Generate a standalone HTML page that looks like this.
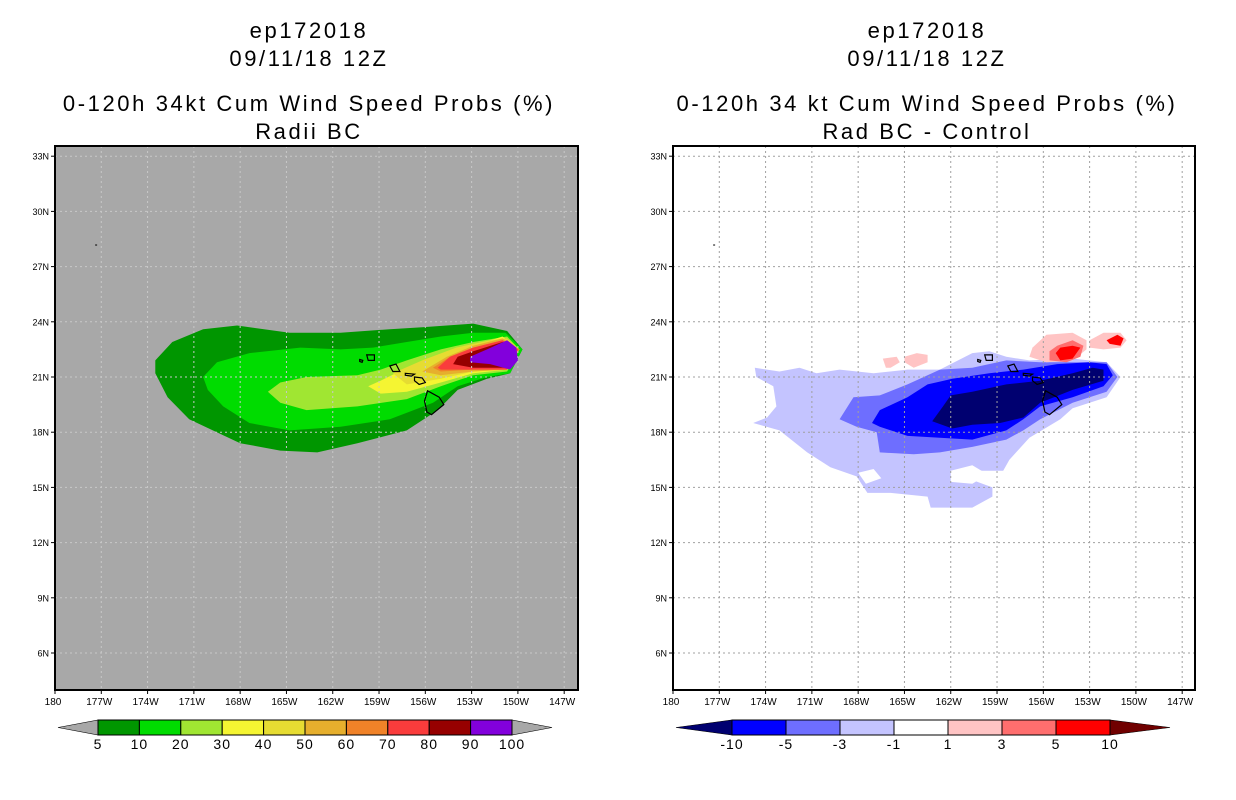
<!DOCTYPE html>
<html><head><meta charset="utf-8"><style>
body{margin:0;background:#fff;width:1236px;height:800px;overflow:hidden}
svg{display:block}
text{font-family:"Liberation Sans","DejaVu Sans",sans-serif;fill:#000}
</style></head><body>
<svg id="fig" width="1236" height="800" xmlns="http://www.w3.org/2000/svg"></svg>
<script>
// ---------- data ----------
const lonTicks = [180,177,174,171,168,165,162,159,156,153,150,147];
const lonTickLabels = ["180","177W","174W","171W","168W","165W","162W","159W","156W","153W","150W","147W"];
const latTicks = [33,30,27,24,21,18,15,12,9,6];
const latTickLabels = ["33N","30N","27N","24N","21N","18N","15N","12N","9N","6N"];
const probLevels = ["5","10","20","30","40","50","60","70","80","90","100"];
const probColors = ["#009600","#00dc00","#a0e632","#f5f532","#e6dc32","#e6af2d","#f08228","#fa3c3c","#960000","#8200dc"];
const diffLevels = ["-10","-5","-3","-1","1","3","5","10"];
const diffColors = ["#000070","#0000ff","#6e6eff","#c4c4ff","#ffffff","#ffc4c4","#ff6e6e","#ff0000","#700000"];
// contour polygons [lonW, lat]
const prob5 = [[173.5,21.9],[172.4,22.9],[170.4,23.6],[168.2,23.8],[164.8,23.4],[161.5,23.4],[158.3,23.6],[156.2,23.7],[152.9,23.9],[150.7,23.5],[149.7,22.5],[150.5,21.2],[152.0,20.9],[153.9,20.3],[155.2,19.2],[157.2,18.1],[160.4,17.4],[163.0,16.9],[165.4,17.0],[168.0,17.4],[171.3,18.7],[172.7,19.9],[173.5,21.2]];
const prob10 = [[170.4,21.0],[169.5,21.8],[167.4,22.3],[164.1,22.6],[161.5,22.5],[159.4,22.6],[157.2,22.9],[155.0,23.2],[152.9,23.4],[150.8,23.4],[149.7,22.5],[150.5,21.2],[152.0,21.0],[153.9,20.5],[155.5,19.6],[158.3,18.7],[161.5,18.3],[164.8,18.1],[167.4,18.5],[169.1,19.4],[170.1,20.3]];
const prob20 = [[166.2,20.2],[165.4,20.7],[163.7,21.0],[160.4,21.1],[158.9,21.4],[157.2,21.9],[155.0,22.5],[152.9,22.9],[150.7,23.2],[149.9,22.5],[150.7,21.3],[152.9,21.1],[155.0,20.5],[157.2,19.8],[160.4,19.4],[163.7,19.2],[165.4,19.6]];
const prob30 = [[159.7,20.5],[158.9,20.8],[157.2,21.5],[155.0,22.1],[152.9,22.7],[151.0,23.2],[149.9,22.5],[150.7,21.4],[152.9,21.2],[155.0,20.7],[157.2,20.2],[158.9,20.1]];
const prob40 = [[158.1,21.2],[156.2,21.9],[154.0,22.6],[151.8,23.0],[150.7,23.1],[149.9,22.5],[150.7,21.4],[152.9,21.3],[155.0,20.9],[157.2,20.6]];
const prob50 = [[156.2,21.3],[154.6,22.1],[152.9,22.7],[151.0,23.1],[149.9,22.5],[150.7,21.4],[152.9,21.3],[155.0,21.1]];
const prob60 = [[155.5,21.5],[154.4,22.1],[152.9,22.6],[151.0,23.0],[149.9,22.5],[150.7,21.4],[152.9,21.4],[155.0,21.3]];
const prob70 = [[155.2,21.5],[154.4,22.1],[152.9,22.6],[151.0,23.0],[150.0,22.5],[150.7,21.4],[152.9,21.4],[155.0,21.4]];
const prob80 = [[154.2,21.7],[153.9,22.1],[152.9,22.4],[151.0,22.9],[150.1,22.5],[150.7,21.5],[152.9,21.5]];
const prob90 = [[153.1,22.1],[152.0,22.5],[150.7,23.0],[150.1,22.6],[150.0,21.9],[150.5,21.4],[151.8,21.7],[153.1,21.8]];
const diffM1 = [[174.7,21.5],[173.1,21.3],[171.8,21.5],[170.7,21.2],[169.2,21.4],[167.0,21.2],[164.8,21.4],[162.7,21.4],[160.6,22.3],[159.5,22.4],[158.4,22.1],[156.9,21.9],[154.1,22.0],[151.9,21.8],[151.0,21.0],[151.9,19.9],[154.1,19.3],[154.9,18.7],[156.9,17.7],[158.2,16.5],[158.6,15.9],[160.1,15.9],[160.6,15.4],[159.3,15.0],[159.3,14.5],[160.6,13.9],[163.3,13.9],[163.5,14.5],[165.9,14.7],[167.4,14.7],[168.1,15.6],[169.8,16.1],[171.3,16.9],[173.1,18.1],[174.8,18.5],[173.9,18.8],[173.3,19.4],[173.5,20.5],[174.6,21.0]];
const diffHole1 = [[168.0,15.8],[167.0,16.0],[166.5,15.5],[167.5,15.2]];
const diffHole2 = [[162.0,15.9],[160.6,16.2],[159.6,15.7],[160.6,15.2],[162.0,15.3]];
const diffM3 = [[169.2,18.7],[168.3,19.9],[166.6,20.0],[164.8,20.6],[162.7,21.4],[160.6,21.5],[158.4,21.9],[156.2,21.8],[154.1,21.8],[151.9,21.8],[151.2,21.0],[151.9,20.2],[154.1,19.6],[156.2,18.7],[157.3,18.1],[158.4,17.6],[160.6,17.2],[162.7,16.9],[164.4,16.8],[166.6,16.9],[166.8,18.0],[168.1,18.3]];
const diffM5 = [[167.1,18.5],[166.6,19.2],[164.8,19.9],[163.5,20.6],[161.9,20.9],[159.5,21.2],[157.3,21.4],[155.1,21.7],[153.0,21.8],[151.9,21.7],[151.5,21.1],[152.1,20.5],[154.1,19.9],[156.2,19.4],[157.3,18.7],[158.4,18.1],[160.6,17.6],[162.7,17.7],[164.8,17.8],[166.6,18.3]];
const diffM10 = [[163.2,18.6],[162.5,19.4],[162.0,20.0],[160.6,20.2],[158.4,20.6],[156.2,20.8],[154.1,21.2],[152.8,21.5],[152.1,21.4],[152.1,20.8],[154.1,20.3],[156.2,19.6],[157.3,18.8],[158.8,18.5],[160.6,18.4],[161.9,18.2]];
const diffP1a = [[156.7,22.6],[155.8,23.3],[154.1,23.4],[153.2,23.0],[153.2,22.5],[154.1,21.9],[155.8,21.8],[156.9,22.1]];
const diffP1b = [[153.0,23.0],[152.1,23.4],[151.0,23.4],[150.6,23.0],[151.0,22.6],[152.1,22.5],[153.0,22.6]];
const diffP1c = [[166.4,22.0],[165.5,22.1],[165.3,21.8],[165.9,21.5],[166.2,21.5]];
const diffP1d = [[165.0,22.1],[164.2,22.3],[163.5,22.2],[163.5,21.8],[164.4,21.5],[165.0,21.8]];
const diffP3 = [[155.6,22.4],[155.1,22.7],[154.1,23.0],[153.4,22.7],[153.6,22.1],[154.5,21.8],[155.6,21.9]];
const diffP5a = [[155.2,22.3],[154.9,22.6],[154.1,22.7],[153.6,22.6],[154.1,22.0],[154.9,21.9]];
const diffP5b = [[151.9,23.0],[151.2,23.3],[150.8,23.1],[151.0,22.7],[151.7,22.8]];
const islands = {
  "big-island":[[155.85,20.25],[155.1,19.9],[154.8,19.5],[155.6,18.95],[155.9,19.1],[156.05,19.7]],
  "maui":[[156.7,21.0],[156.2,20.95],[156.0,20.7],[156.4,20.6],[156.7,20.8]],
  "molokai":[[157.3,21.2],[156.7,21.15],[156.9,21.05],[157.3,21.1]],
  "oahu":[[158.3,21.6],[157.9,21.7],[157.65,21.3],[158.1,21.3]],
  "kauai":[[159.8,22.2],[159.3,22.2],[159.3,21.9],[159.7,21.9]],
  "niihau":[[160.25,21.95],[160.05,21.9],[160.1,21.8],[160.25,21.85]]
};
// ---------- render ----------
const NS="http://www.w3.org/2000/svg";
const svg=document.getElementById('fig');
function mk(tag,attrs,parent){const e=document.createElementNS(NS,tag);for(const k in attrs)e.setAttribute(k,attrs[k]);(parent||svg).appendChild(e);return e;}
const PX=15.43, PY=18.4, TOP=146, BOT=690;
function panel(left, right, bg, name){
  const xS=lon=>left+(180-lon)*PX;
  const yS=lat=>377-(lat-21)*PY;
  const g=mk('g',{});
  
  
  const cid='clip-'+name;
  const cp=mk('clipPath',{id:cid},g);mk('rect',{x:left,y:TOP,width:right-left,height:BOT-TOP},cp);
  const bgR=mk('rect',{x:left,y:TOP,width:right-left,height:BOT-TOP,fill:bg},g);
  
  
  const fills=mk('g',{'clip-path':'url(#'+cid+')'},g);
  function poly(pts,color,nm){
    const p=mk('polygon',{points:pts.map(q=>xS(q[0]).toFixed(1)+','+yS(q[1]).toFixed(1)).join(' '),fill:color},fills);
    
    
  }
  return {g,fills,poly,xS,yS,left,right};
}
function finish(P,bgc){
  const {g,fills,xS,yS,left,right}=P;
  for(let i=1;i<lonTicks.length;i++){const x=xS(lonTicks[i]);if(x<right){mk('line',{x1:x,y1:TOP,x2:x,y2:BOT,stroke:bgc,'stroke-width':1,'stroke-dasharray':'2,3'},fills);}}
  for(const la of latTicks){const y=yS(la);mk('line',{x1:left,y1:y,x2:right,y2:y,stroke:bgc,'stroke-width':1,'stroke-dasharray':'2,3'},fills);}
  for(const k in islands){const p=mk('polygon',{points:islands[k].map(q=>xS(q[0]).toFixed(1)+','+yS(q[1]).toFixed(1)).join(' '),fill:'none',stroke:'#000','stroke-width':1.2},fills);
    
    }
  const dot=mk('rect',{x:xS(177.4),y:yS(28.2),width:2,height:1,fill:'#000'},fills);
  
  
  const fr=mk('rect',{x:left,y:TOP,width:right-left,height:BOT-TOP,fill:'none',stroke:'#000','stroke-width':2},g);
  
  
  lonTicks.forEach((lo,i)=>{const x=xS(lo);
    mk('line',{x1:x,y1:BOT,x2:x,y2:BOT+4,stroke:'#000'},g);
    const t=mk('text',{x:x-2,y:BOT+15,'text-anchor':'middle','font-size':10},g);t.textContent=lonTickLabels[i];
    
    });
  latTicks.forEach((la,i)=>{const y=yS(la);
    mk('line',{x1:left-4,y1:y,x2:left,y2:y,stroke:'#000'},g);
    const t=mk('text',{x:left-6,y:y+3.5,'text-anchor':'end','font-size':9},g);t.textContent=latTickLabels[i];
    
    });
}
function titles(cx,lines,names){
  const ys=[38,66,111,139];
  lines.forEach((s,i)=>{const t=mk('text',{x:cx,y:ys[i],'text-anchor':'middle','font-size':22,'letter-spacing':'2.6'});t.textContent=s;
    
    });
}
function colorbar(x0,bw,colors,labels,triL,triR,triColL,triColR,name){
  const g=mk('g',{});
  
  
  const y0=720,h=15,n=colors.length;
  mk('polygon',{points:`${x0-triL},${y0+h/2} ${x0},${y0} ${x0},${y0+h}`,fill:triColL,stroke:'#000','stroke-width':0.6},g);
  const xe=x0+n*bw;
  mk('polygon',{points:`${xe+triR},${y0+h/2} ${xe},${y0} ${xe},${y0+h}`,fill:triColR,stroke:'#000','stroke-width':0.6},g);
  colors.forEach((c,i)=>{const r=mk('rect',{x:x0+i*bw,y:y0,width:bw,height:h,fill:c,stroke:'#000','stroke-width':1},g);
    
    });
  labels.forEach((s,i)=>{const t=mk('text',{x:x0+i*bw,y:y0+h+14,'text-anchor':'middle','font-size':14,'letter-spacing':'1'},g);t.textContent=s;
    
    });
}
// left panel
const L=panel(55,578,'#a8a8a8','left-map-panel');
[prob5,prob10,prob20,prob30,prob40,prob50,prob60,prob70,prob80,prob90].forEach((p,i)=>L.poly(p,probColors[i],'prob-contour-'+probLevels[i]));
finish(L,'#c8c8c8');
titles(309,["ep172018","09/11/18 12Z","0-120h 34kt Cum Wind Speed Probs (%)","Radii BC"],["storm-id-title","date-title","left-main-title","left-subtitle"]);
colorbar(98,41.4,probColors,probLevels,40,40,'#a8a8a8','#a8a8a8','left-colorbar');
// right panel
const R=panel(673,1195,'#ffffff','right-map-panel');
R.poly(diffM1,diffColors[3],'diff-contour-minus1');
R.poly(diffHole1,'#ffffff','diff-hole');
R.poly(diffHole2,'#ffffff','diff-hole');
R.poly(diffM3,diffColors[2],'diff-contour-minus3');
R.poly(diffM5,diffColors[1],'diff-contour-minus5');
R.poly(diffM10,diffColors[0],'diff-contour-minus10');
[diffP1a,diffP1b,diffP1c,diffP1d].forEach(p=>R.poly(p,diffColors[5],'diff-contour-plus1'));
R.poly(diffP3,diffColors[6],'diff-contour-plus3');
R.poly(diffP5a,diffColors[7],'diff-contour-plus5');
R.poly(diffP5b,diffColors[7],'diff-contour-plus5');
finish(R,'#a0a0a0');
titles(927,["ep172018","09/11/18 12Z","0-120h 34 kt Cum Wind Speed Probs (%)","Rad BC - Control"],["storm-id-title-right","date-title-right","right-main-title","right-subtitle"]);
colorbar(732,54,diffColors.slice(1,8),diffLevels,56,60,diffColors[0],diffColors[8],'right-colorbar');
</script>
</body></html>
